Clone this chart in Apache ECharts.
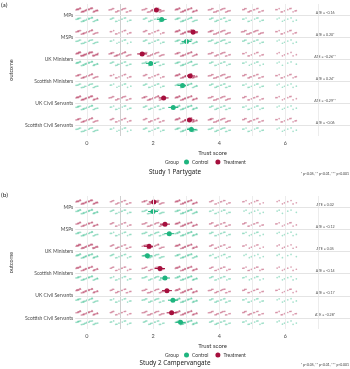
<!DOCTYPE html>
<html>
<head>
<meta charset="utf-8">
<script src="https://cdn.jsdelivr.net/npm/echarts@6/dist/echarts.min.js"></script>
<style>
  html, body { margin: 0; padding: 0; background: #fff; }
  #chart { width: 350px; height: 369px; }
</style>
</head>
<body>
<div id="chart"></div>
<script>
var outcomes = ["MPs", "MSPs", "UK Ministers", "Scottish Ministers", "UK Civil Servants", "Scottish Civil Servants"];
var levels = [0, 1, 2, 3, 4, 5, 6];
var xTicks = [0, 2, 4, 6];
var gridX = [0, 1, 2, 3, 4, 5, 6, 7];

// Study 1 Partygate
var s1TreatmentMean = [2.10, 3.21, 1.67, 3.12, 2.32, 3.10];
var s1ControlMean = [2.26, 3.01, 1.93, 2.89, 2.61, 3.16];
var s1Ate = ["ATE = -0.16", "ATE = 0.20*", "ATE = -0.26**", "ATE = 0.24*", "ATE = -0.29**", "ATE = -0.06"];
// Study 2 Campervangate
var s2TreatmentMean = [2.02, 2.36, 1.88, 2.21, 2.42, 2.56];
var s2ControlMean = [2.00, 2.49, 1.83, 2.36, 2.60, 2.83];
var s2Ate = ["ATE = 0.02", "ATE = -0.12", "ATE = 0.05", "ATE = -0.14", "ATE = -0.17", "ATE = -0.28*"];
var ciHalf = 0.15;

// how many responses sit at each score 0..6 (rough, read off the point clouds)
var s1TreatmentCounts = [
  [34, 18, 20, 30, 20, 16, 12],
  [24, 12, 14, 30, 22, 20, 12],
  [40, 24, 22, 26, 18, 12, 8],
  [24, 12, 14, 30, 20, 16, 12],
  [32, 18, 24, 30, 20, 14, 10],
  [24, 14, 16, 30, 22, 16, 12]
];
var s1ControlCounts = [
  [26, 14, 16, 24, 16, 12, 8],
  [20, 10, 14, 26, 18, 14, 8],
  [30, 16, 18, 24, 14, 10, 6],
  [20, 10, 14, 26, 16, 12, 8],
  [24, 12, 16, 28, 16, 12, 8],
  [20, 10, 14, 26, 18, 12, 8]
];
var s2TreatmentCounts = [
  [34, 16, 22, 30, 14, 10, 8],
  [28, 14, 20, 30, 16, 14, 10],
  [36, 16, 24, 30, 14, 10, 8],
  [30, 14, 18, 30, 14, 12, 8],
  [30, 16, 20, 30, 18, 14, 10],
  [28, 14, 20, 30, 18, 16, 12]
];
var s2ControlCounts = [
  [28, 14, 20, 26, 12, 8, 6],
  [24, 12, 18, 28, 14, 10, 8],
  [30, 14, 20, 26, 12, 8, 6],
  [26, 12, 18, 28, 14, 10, 8],
  [24, 12, 18, 28, 16, 12, 8],
  [22, 12, 16, 28, 16, 12, 8]
];

var RED = "#a50f3d";
var GREEN = "#1fb57f";
var TXT = "#4d4d4d";
var FONT = "Lato";
var offT = -0.23, offC = 0.2;

var myChart = echarts.init(document.getElementById("chart"), null, { renderer: "canvas" });

function cloudData(counts, off) {
  var out = [];
  counts.forEach(function(row, r) {
    row.forEach(function(n, i) {
      out.push([levels[i], r + off, n]);
    });
  });
  return out;
}

// jittered cloud of n points around one score level
function renderCloud(params, api) {
  var c = api.coord([api.value(0), api.value(1)]);
  var hw = api.size([0.34, 0])[0];
  var n = api.value(2);
  var color = api.visual("color");
  var kids = [];
  for (var i = 0; i < n; i++) {
    var fx = (i * 0.618034 + 0.13) % 1;
    var fy = (i * 0.754878 + 0.41) % 1;
    kids.push({
      type: "circle",
      shape: { cx: c[0] + (fx * 2 - 1) * hw, cy: c[1] + (fy * 2 - 1) * 2.2, r: 0.85 },
      style: { fill: color, opacity: 0.4 }
    });
  }
  return { type: "group", children: kids };
}

function renderBar(params, api) {
  var y = api.value(1);
  var a = api.coord([api.value(0) - ciHalf, y]);
  var b = api.coord([api.value(0) + ciHalf, y]);
  return {
    type: "line",
    shape: { x1: a[0], y1: a[1], x2: b[0], y2: b[1] },
    style: { stroke: api.visual("color"), lineWidth: 1 }
  };
}

function meanData(means, off) {
  return means.map(function(m, r) { return [m, r + off]; });
}

function panelSeries(p, tCounts, cCounts, tMean, cMean, ate) {
  var ax = { xAxisIndex: p, yAxisIndex: p };
  var list = [];
  list.push(Object.assign({
    name: "grid" + p,
    type: "line",
    data: [],
    silent: true,
    z: 0,
    markLine: {
      silent: true,
      symbol: "none",
      label: { show: false },
      data: gridX.map(function(v) {
        return { xAxis: v, lineStyle: { color: v === 1 ? "#cfcfcf" : "#ececec", width: 1, type: "solid" } };
      }).concat(outcomes.map(function(o, r) {
        return { yAxis: r, lineStyle: { color: "#e4e4e4", width: 1, type: "solid" } };
      }))
    }
  }, ax));
  list.push(Object.assign({
    name: "cloudT" + p, type: "custom", renderItem: renderCloud,
    data: cloudData(tCounts, offT), itemStyle: { color: RED }, silent: true, z: 1
  }, ax));
  list.push(Object.assign({
    name: "cloudC" + p, type: "custom", renderItem: renderCloud,
    data: cloudData(cCounts, offC), itemStyle: { color: GREEN }, silent: true, z: 1
  }, ax));
  list.push(Object.assign({
    name: "barT" + p, type: "custom", renderItem: renderBar,
    data: meanData(tMean, offT), itemStyle: { color: RED }, silent: true, z: 2
  }, ax));
  list.push(Object.assign({
    name: "barC" + p, type: "custom", renderItem: renderBar,
    data: meanData(cMean, offC), itemStyle: { color: GREEN }, silent: true, z: 2
  }, ax));
  list.push(Object.assign({
    name: "Treatment", type: "scatter", symbolSize: 5,
    data: meanData(tMean, offT), itemStyle: { color: RED, opacity: 1 }, z: 3
  }, ax));
  list.push(Object.assign({
    name: "Control", type: "scatter", symbolSize: 5,
    data: meanData(cMean, offC), itemStyle: { color: GREEN, opacity: 1 }, z: 3
  }, ax));
  list.push(Object.assign({
    name: "ate" + p, type: "scatter", symbolSize: 0, silent: true,
    data: outcomes.map(function(o, r) { return [7.2, r - 0.12]; }),
    label: {
      show: true, position: "inside", fontSize: 3.6, fontFamily: FONT, color: "#222",
      formatter: function(d) { return ate[d.dataIndex]; }
    }
  }, ax));
  return list;
}

function xAxisFor(p) {
  return {
    gridIndex: p, type: "value", min: -0.35, max: 7.95,
    name: "Trust score", nameLocation: "middle", nameGap: 14,
    nameTextStyle: { fontSize: 6, fontFamily: FONT, color: "#333" },
    axisLine: { show: false }, axisTick: { show: false }, splitLine: { show: false },
    axisLabel: { customValues: xTicks, fontSize: 5.5, fontFamily: FONT, color: TXT, margin: 4 }
  };
}

function yAxisFor(p) {
  return {
    gridIndex: p, type: "value", inverse: true, min: -0.5, max: 5.5,
    name: "outcome", nameLocation: "middle", nameGap: 59, nameRotate: 90,
    nameTextStyle: { fontSize: 5.5, fontFamily: FONT, color: "#333" },
    axisLine: { show: false }, axisTick: { show: false }, splitLine: { show: false },
    axisLabel: {
      customValues: [0, 1, 2, 3, 4, 5], fontSize: 5, fontFamily: FONT, color: TXT, margin: 2,
      formatter: function(v) { return outcomes[v]; }
    }
  };
}

function legendFor(top) {
  return {
    data: ["Control", "Treatment"], top: top, left: 184, icon: "circle", padding: 0,
    itemWidth: 5, itemHeight: 5, itemGap: 7, selectedMode: false,
    textStyle: { fontSize: 5, fontFamily: FONT, color: "#333", padding: [0, 0, 0, -2] }
  };
}

var foot = "* p<0.05, ** p<0.01, *** p<0.001";

function titleStyle(size, family, color) {
  return { fontSize: size, fontWeight: "normal", color: color, fontFamily: family };
}

myChart.setOption({
  animation: false,
  textStyle: { fontFamily: FONT },
  title: [
    { text: "(a)", left: 1, top: 1, padding: 0, textStyle: titleStyle(6.5, FONT, "#222") },
    { text: "Study 1 Partygate", left: "center", top: 169, padding: 0, textStyle: titleStyle(6.3, "Noto Sans", "#222") },
    { text: foot, right: 1, top: 172, padding: 0, textStyle: titleStyle(3.4, FONT, "#333") },
    { text: "(b)", left: 1, top: 191, padding: 0, textStyle: titleStyle(6.5, FONT, "#222") },
    { text: "Study 2 Campervangate", left: "center", top: 360, padding: 0, textStyle: titleStyle(6.3, "Noto Sans", "#222") },
    { text: foot, right: 1, top: 363, padding: 0, textStyle: titleStyle(3.4, FONT, "#333") }
  ],
  legend: [legendFor(159.5), legendFor(352.5)],
  graphic: [
    { type: "text", left: 165, top: 159.5, style: { text: "Group", fontSize: 5, fontFamily: FONT, fill: "#333" } },
    { type: "text", left: 165, top: 352.5, style: { text: "Group", fontSize: 5, fontFamily: FONT, fill: "#333" } }
  ],
  grid: [
    { left: 64, right: 0, top: 4, height: 132 },
    { left: 64, right: 0, top: 196, height: 133 }
  ],
  xAxis: [xAxisFor(0), xAxisFor(1)],
  yAxis: [yAxisFor(0), yAxisFor(1)],
  series: panelSeries(0, s1TreatmentCounts, s1ControlCounts, s1TreatmentMean, s1ControlMean, s1Ate)
    .concat(panelSeries(1, s2TreatmentCounts, s2ControlCounts, s2TreatmentMean, s2ControlMean, s2Ate))
});
</script>
</body>
</html>
